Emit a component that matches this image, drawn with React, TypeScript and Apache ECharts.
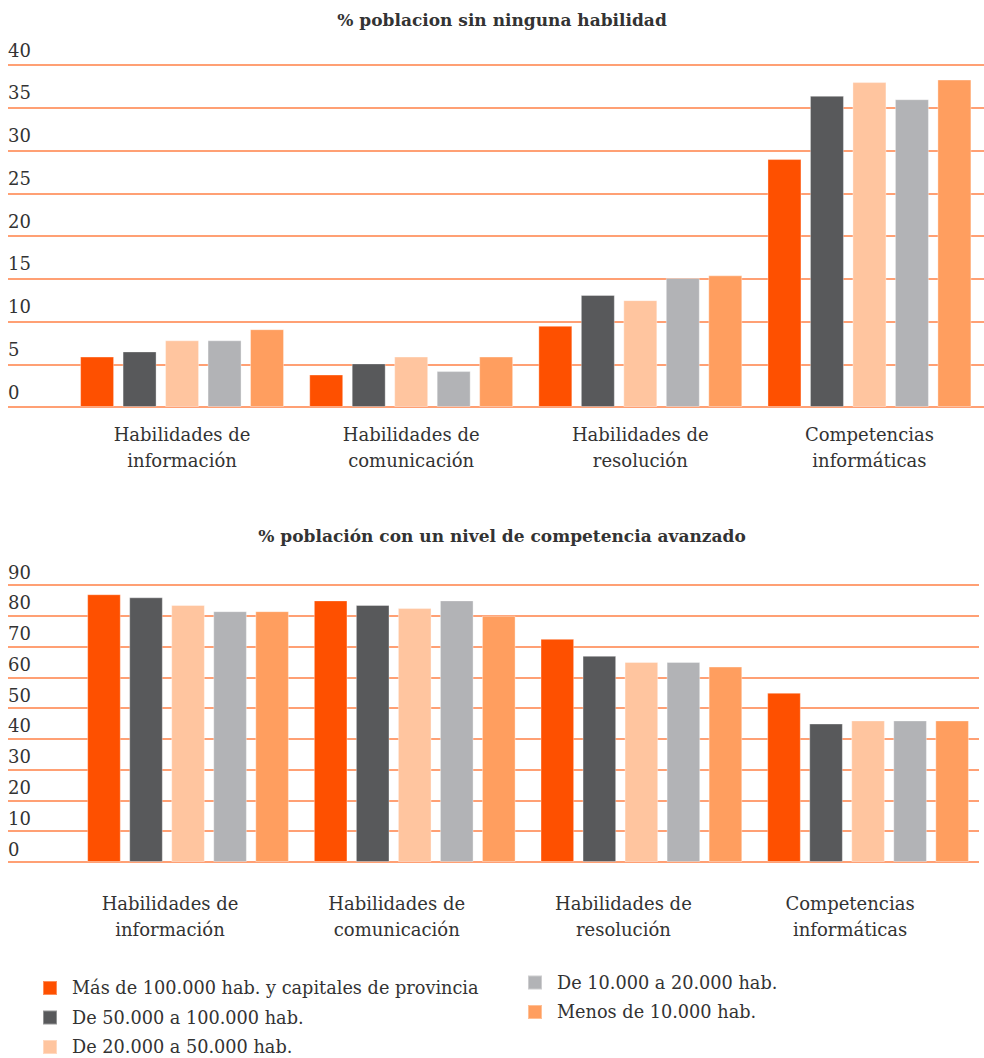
import React, { useEffect, useRef } from "react";
import * as echarts from "echarts";

const categories = [
  "Habilidades de\ninformación",
  "Habilidades de\ncomunicación",
  "Habilidades de\nresolución",
  "Competencias\ninformáticas",
];

const seriesNames = [
  "Más de 100.000 hab. y capitales de provincia",
  "De 50.000 a 100.000 hab.",
  "De 20.000 a 50.000 hab.",
  "De 10.000 a 20.000 hab.",
  "Menos de 10.000 hab.",
];

const seriesColors = ["#FE5000", "#58595B", "#FFC59F", "#B2B3B6", "#FF9E5F"];

// % poblacion sin ninguna habilidad
const sinMas100k = [5.9, 3.8, 9.5, 29.0];
const sin50a100k = [6.5, 5.1, 13.1, 36.4];
const sin20a50k = [7.8, 5.9, 12.5, 38.0];
const sin10a20k = [7.8, 4.2, 15.1, 36.0];
const sinMenos10k = [9.1, 5.9, 15.4, 38.3];

// % población con un nivel de competencia avanzado
const avMas100k = [87, 85, 72.5, 55];
const av50a100k = [86, 83.5, 67, 45];
const av20a50k = [83.5, 82.5, 65, 46];
const av10a20k = [81.5, 85, 65, 46];
const avMenos10k = [81.5, 80, 63.5, 46];

const topTitle = "% poblacion sin ninguna habilidad";
const bottomTitle = "% población con un nivel de competencia avanzado";

const FONT = '"DejaVu Serif", serif';
const TEXT = "#333333";
const GRID_LINE = "#FF8046";

export default function App() {
  const ref = useRef<HTMLDivElement>(null);

  useEffect(() => {
    if (!ref.current) return;
    const chart = echarts.init(ref.current, null, { renderer: "svg" });

    const topData = [sinMas100k, sin50a100k, sin20a50k, sin10a20k, sinMenos10k];
    const botData = [avMas100k, av50a100k, av20a50k, av10a20k, avMenos10k];

    const mkSeries = (data: number[][], axisIdx: number) =>
      data.map((d, i) => ({
        type: "bar",
        name: seriesNames[i],
        xAxisIndex: axisIdx,
        yAxisIndex: axisIdx,
        data: d,
        barGap: "25%",
        barCategoryGap: "11%",
        itemStyle: {
          color: seriesColors[i],
          borderColor: "rgba(255,255,255,0.35)",
          borderWidth: 1,
        },
      }));

    const gridAxisY = (gridIndex: number, max: number, interval: number, lh: number) => ({
      gridIndex,
      type: "value",
      min: 0,
      max,
      interval,
      axisLine: { show: false },
      axisTick: { show: false },
      splitLine: { show: true, lineStyle: { color: GRID_LINE, width: 1.6 } },
      axisLabel: {
        inside: true,
        align: "left",
        verticalAlign: "bottom",
        lineHeight: lh,
        margin: 0,
        color: TEXT,
        fontFamily: FONT,
        fontSize: 18,
      },
    });

    const hiddenY = (gridIndex: number, max: number) => ({
      gridIndex,
      type: "value",
      min: 0,
      max,
      show: false,
      splitLine: { show: false },
    });

    const catX = (gridIndex: number, margin: number, padding: number[]) => ({
      gridIndex,
      type: "category",
      data: categories,
      axisLine: { show: false },
      axisTick: { show: false },
      splitLine: { show: false },
      axisLabel: {
        margin,
        interval: 0,
        color: TEXT,
        fontFamily: FONT,
        fontSize: 18,
        lineHeight: 26,
        padding,
      },
    });

    const legendBase = {
      orient: "vertical",
      padding: 0,
      itemWidth: 14,
      itemHeight: 14,
      itemGap: 11.5,
      icon: "rect",
      textStyle: { fontFamily: FONT, fontSize: 17.7, color: TEXT, padding: [0, 0, 0, 10] },
      selectedMode: false,
    };

    const option = {
      animation: false,
      backgroundColor: "#ffffff",
      title: [
        {
          text: topTitle,
          left: 497,
          top: 6,
          textAlign: "center",
          textStyle: { fontFamily: FONT, fontSize: 17, fontWeight: "bold", color: TEXT },
        },
        {
          text: bottomTitle,
          left: 497,
          top: 522,
          textAlign: "center",
          textStyle: { fontFamily: FONT, fontSize: 17, fontWeight: "bold", color: TEXT },
        },
      ],
      legend: [
        { ...legendBase, data: seriesNames.slice(0, 3), left: 42, top: 979 },
        { ...legendBase, data: seriesNames.slice(3), left: 527, top: 973.5 },
      ],
      grid: [
        { left: 8, width: 976, top: 65, height: 342 },
        { left: 67.5, width: 920, top: 65, height: 342 },
        { left: 8, width: 971, top: 585, height: 277 },
        { left: 74.7, width: 906.7, top: 585, height: 277 },
      ],
      xAxis: [
        { gridIndex: 0, type: "value", show: false, min: 0, max: 1 },
        catX(1, 14, [0, 0, 0, 0]),
        { gridIndex: 2, type: "value", show: false, min: 0, max: 1 },
        catX(3, 28, [0, 36, 0, 0]),
      ],
      yAxis: [
        gridAxisY(0, 40, 5, 30),
        hiddenY(1, 40),
        gridAxisY(2, 90, 10, 26),
        hiddenY(3, 90),
      ],
      series: [...mkSeries(topData, 1), ...mkSeries(botData, 3)],
    };

    chart.setOption(option as any);
    return () => chart.dispose();
  }, []);

  return (
    <div
      ref={ref}
      style={{ position: "absolute", left: 0, top: 0, width: 984, height: 1058 }}
    />
  );
}
